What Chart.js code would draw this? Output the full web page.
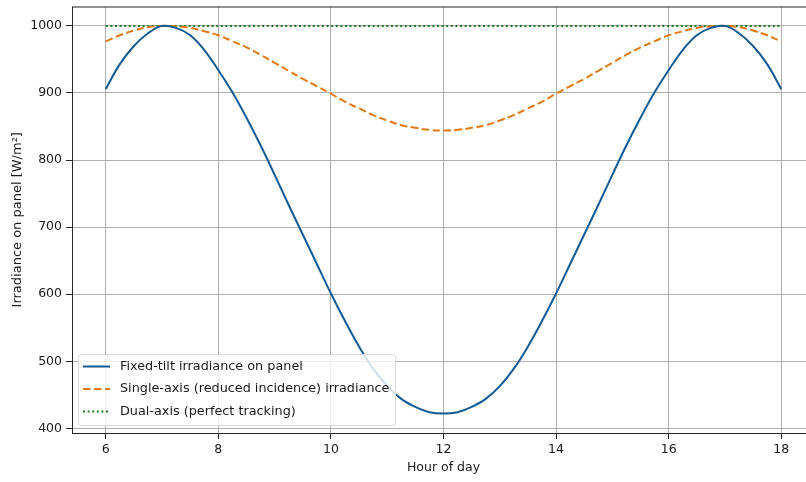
<!DOCTYPE html>
<html>
<head>
<meta charset="utf-8">
<script src="https://cdn.jsdelivr.net/npm/chart.js@4"></script>
<style>
  html, body { margin: 0; padding: 0; background: #fff; overflow: hidden; }
  #wrap { width: 820px; height: 482px; }
</style>
</head>
<body>
<div id="wrap"><canvas id="irrChart"></canvas></div>
<script>
// Hour of day (x values)
const hours = [6, 6.25, 6.5, 6.75, 7, 7.25, 7.5, 7.75, 8, 8.25, 8.5, 8.75, 9, 9.25, 9.5, 9.75,
  10, 10.25, 10.5, 10.75, 11, 11.25, 11.5, 11.75, 12, 12.25, 12.5, 12.75, 13, 13.25, 13.5, 13.75,
  14, 14.25, 14.5, 14.75, 15, 15.25, 15.5, 15.75, 16, 16.25, 16.5, 16.75, 17, 17.25, 17.5, 17.75, 18];

// Fixed-tilt irradiance on panel [W/m²]
const fixedTilt = [906, 943, 970, 989, 1000, 997, 986, 964, 934, 901, 863, 822, 778, 733, 689, 645,
  601, 560, 522, 489, 463, 444, 432, 424, 422, 424, 432, 444, 463, 489, 522, 560,
  601, 645, 689, 733, 778, 822, 863, 901, 934, 964, 986, 997, 1000, 989, 970, 943, 906];

// Single-axis tracking
const singleAxis = [977, 986, 993, 998, 1000, 999, 997, 992, 986, 977, 968, 957, 945, 933, 921, 910,
  899, 887, 877, 867, 859, 852, 848, 845, 844, 845, 848, 852, 859, 867, 877, 887,
  899, 910, 921, 933, 945, 957, 968, 977, 986, 992, 997, 999, 1000, 998, 993, 986, 977];

// Dual-axis tracking
const dualHours = [6, 12, 18];
const dualAxis = [1000, 1000, 1000];

const xTicks = [6, 8, 10, 12, 14, 16, 18];
const yTicks = [400, 500, 600, 700, 800, 900, 1000];

const FONT = 'DejaVu Sans';

function pts(xs, ys) {
  return xs.map((x, i) => ({ x: x, y: ys[i] }));
}

// frame around the plot + legend inside bottom-left
const framePlugin = {
  id: 'frame',
  afterDatasetsDraw(chart) {
    const ctx = chart.ctx;
    const a = chart.chartArea;
    ctx.save();
    ctx.strokeStyle = '#262626';
    ctx.lineWidth = 1;
    ctx.strokeRect(a.left + 0.5, a.top + 0.5, a.right - a.left, a.bottom - a.top);

    // legend box
    const bx = 78, by = 354, bw = 317, bh = 71;
    ctx.fillStyle = 'rgba(255,255,255,0.8)';
    ctx.strokeStyle = '#d9d9d9';
    ctx.beginPath();
    ctx.roundRect(bx + 0.5, by + 0.5, bw, bh, 3);
    ctx.fill();
    ctx.stroke();

    ctx.font = '12.8px "' + FONT + '"';
    ctx.textBaseline = 'middle';
    ctx.textAlign = 'left';
    chart.data.datasets.forEach((ds, i) => {
      const y = by + 12.5 + i * 22.5;
      ctx.strokeStyle = ds.borderColor;
      ctx.lineWidth = ds.borderWidth;
      ctx.setLineDash(ds.borderDash || []);
      ctx.beginPath();
      ctx.moveTo(83, y);
      ctx.lineTo(110, y);
      ctx.stroke();
      ctx.setLineDash([]);
      ctx.fillStyle = '#1a1a1a';
      ctx.fillText(ds.label, 120, y);
    });
    ctx.restore();
  }
};

const ctx = document.getElementById('irrChart').getContext('2d');
new Chart(ctx, {
  type: 'line',
  data: {
    datasets: [
      {
        label: 'Fixed-tilt irradiance on panel',
        data: pts(hours, fixedTilt),
        borderColor: '#125a93',
        borderWidth: 2,
        pointRadius: 0,
        tension: 0.4
      },
      {
        label: 'Single-axis (reduced incidence) irradiance',
        data: pts(hours, singleAxis),
        borderColor: '#e07b14',
        borderWidth: 2,
        borderDash: [7.5, 3.5],
        pointRadius: 0,
        tension: 0.4
      },
      {
        label: 'Dual-axis (perfect tracking)',
        data: pts(dualHours, dualAxis),
        borderColor: '#1e7b1e',
        borderWidth: 2,
        borderDash: [2, 2.6],
        pointRadius: 0
      }
    ]
  },
  options: {
    responsive: true,
    maintainAspectRatio: false,
    animation: false,
    layout: { padding: { top: 6.5, right: 5, bottom: 0, left: 0 } },
    plugins: {
      legend: { display: false },
      tooltip: { enabled: false }
    },
    scales: {
      x: {
        type: 'linear',
        min: 5.4,
        max: 18.6,
        afterFit: s => { s.height = 49; s.paddingLeft = 0; s.paddingRight = 0; },
        afterBuildTicks: s => { s.ticks = xTicks.map(v => ({ value: v })); },
        ticks: {
          font: { family: FONT, size: 12.5 },
          color: '#1a1a1a',
          padding: 3,
          maxRotation: 0,
          callback: v => String(v)
        },
        grid: { color: '#b0b0b0', lineWidth: 1, tickLength: 6, tickColor: '#262626' },
        border: { display: false },
        title: {
          display: true,
          text: 'Hour of day',
          font: { family: FONT, size: 12.5 },
          color: '#1a1a1a',
          padding: { top: 0, bottom: 7 }
        }
      },
      y: {
        min: 393.1,
        max: 1028.9,
        afterFit: s => { s.width = 72; s.paddingTop = 0; s.paddingBottom = 0; },
        afterBuildTicks: s => { s.ticks = yTicks.map(v => ({ value: v })); },
        ticks: {
          font: { family: FONT, size: 12.5 },
          color: '#1a1a1a',
          padding: 4,
          callback: v => String(v)
        },
        grid: { color: '#b0b0b0', lineWidth: 1, tickLength: 6, tickColor: '#262626' },
        border: { display: false },
        title: {
          display: true,
          text: 'Irradiance on panel [W/m²]',
          font: { family: FONT, size: 13 },
          color: '#1a1a1a',
          padding: { top: 10, bottom: 0 }
        }
      }
    }
  },
  plugins: [framePlugin]
});
</script>
</body>
</html>
